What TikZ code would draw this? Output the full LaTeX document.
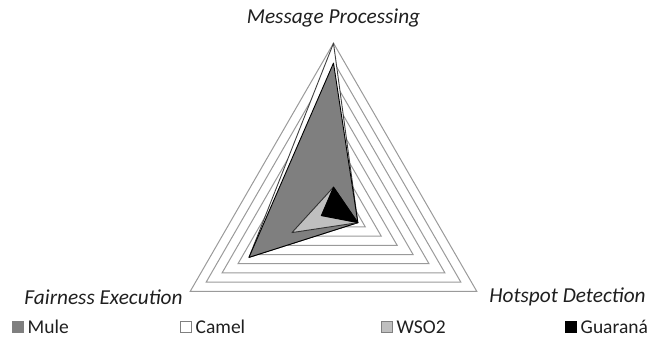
\documentclass[tikz,border=0pt]{standalone}
\usepackage{fontspec}
\setmainfont{Carlito}
\definecolor{gridgray}{HTML}{9A9A9A}
\definecolor{mulegray}{HTML}{7F7F7F}
\definecolor{wsogray}{HTML}{BFBFBF}
\definecolor{labeltext}{HTML}{1F1F1F}
\begin{document}
\begin{tikzpicture}[x=1pt,y=1pt,
  gridline/.style={draw=gridgray,line width=1pt,line join=miter},
  series/.style={line width=0.9pt,line join=round},
  axislabel/.style={font=\fontsize{21.3}{24}\selectfont\itshape,text=labeltext,inner sep=0pt},
  legtext/.style={font=\fontsize{19.5}{22}\selectfont,text=labeltext,anchor=west,inner sep=0pt},
  legbox/.style={minimum size=11pt,inner sep=0pt,draw=gray,line width=0.6pt}]
\useasboundingbox (0,0) rectangle (656,348);
\def\R{165.4}
\begin{scope}[shift={(333.5,139.4)}]
  % concentric grid triangles
  \foreach \k in {1,...,9}{
    \draw[gridline] (90:\k*\R/9) -- (210:\k*\R/9) -- (330:\k*\R/9) -- cycle;
  }
  % series: top axis, left axis, right axis
  \filldraw[series,fill=white,draw=black!75] (90:1.00*\R) -- (210:0.59*\R) -- (330:0.17*\R) -- cycle;
  \filldraw[series,fill=mulegray,draw=black] (90:0.88*\R) -- (210:0.59*\R) -- (330:0.17*\R) -- cycle;
  \filldraw[series,fill=wsogray,draw=black!80] (90:0.13*\R) -- (210:0.29*\R) -- (330:0.17*\R) -- cycle;
  \filldraw[series,fill=black,draw=black] (90:0.13*\R) -- (210:0.085*\R) -- (330:0.17*\R) -- cycle;
\end{scope}
% axis labels
\node[axislabel] (lblmsg) at (333.5,330) {Message Processing};
\node[axislabel] (lblfair) at (103.5,51) {Fairness Execution};
\node[axislabel] (lblhot) at (567.5,51) {Hotspot Detection};
% legend
\node[legbox,fill=mulegray] (kmule) at (18,21) {};
\node[legtext] (tmule) at (27.5,21) {Mule};
\node[legbox,fill=white] (kcamel) at (186,21) {};
\node[legtext] (tcamel) at (195.5,21) {Camel};
\node[legbox,fill=wsogray] (kwso) at (387,21) {};
\node[legtext] (twso) at (396.5,21) {WSO2};
\node[legbox,fill=black,draw=black] (kgua) at (571,21) {};
\node[legtext] (tgua) at (580.5,21) {Guaraná};
\end{tikzpicture}
\end{document}
